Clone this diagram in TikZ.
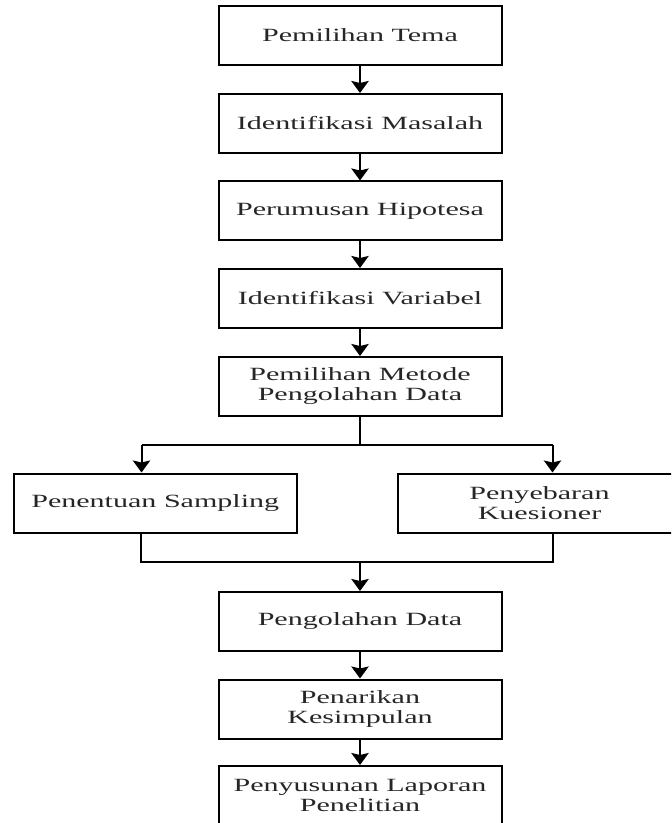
\documentclass[tikz,border=0pt]{standalone}
\usepackage{fontspec}
\setmainfont{Liberation Serif}[FakeStretch=1.61]
\usetikzlibrary{arrows.meta}
\begin{document}
\begin{tikzpicture}[x=0.75pt,y=-0.75pt,
  box/.style={draw, line width=1.5pt, minimum width=212.25pt, minimum height=44.25pt,
    inner sep=0pt, align=center, font=\fontsize{14pt}{15pt}\selectfont, text=black!85},
  conn/.style={line width=1.5pt},
  arr/.style={conn, -{Stealth[width=13pt,length=9pt,inset=1.5pt]}}]
\useasboundingbox (0,0) rectangle (671,823);
\clip (0,0) rectangle (671,823);
% main column
\node[box] (b1) at (360,35.5) {Pemilihan Tema};
\node[box] (b2) at (360,123.5) {Identifikasi Masalah};
\node[box] (b3) at (360,211) {Perumusan Hipotesa};
\node[box] (b4) at (360,298.5) {Identifikasi Variabel};
\node[box] (b5) at (360,386.5) {Pemilihan Metode\\Pengolahan Data};
\node[box] (ls) at (155.25,503) {Penentuan Sampling};
\node[box] (rs) at (539.5,503) {Penyebaran\\Kuesioner};
\node[box] (b6) at (360,621.5) {Pengolahan Data};
\node[box] (b7) at (360,709) {Penarikan\\Kesimpulan};
\node[box] (b8) at (360,795.5) {Penyusunan Laporan\\Penelitian};
% straight arrows
\draw[arr] (b1) -- (b2);
\draw[arr] (b2) -- (b3);
\draw[arr] (b3) -- (b4);
\draw[arr] (b4) -- (b5);
\draw[arr] (b6) -- (b7);
\draw[arr] (b7) -- (b8);
% split
\coordinate (sp) at (360,444.5);
\coordinate (spl) at (141.5,444.5);
\coordinate (spr) at (552.5,444.5);
\draw[conn] (b5.south) -- (sp);
\draw[conn] (spl) -- (spr);
\draw[arr] (spl) -- (spl |- ls.north);
\draw[arr] (spr) -- (spr |- rs.north);
% merge
\coordinate (ml) at (140.5,561.5);
\coordinate (mr) at (552.5,561.5);
\coordinate (mc) at (360,561.5);
\draw[conn] (ml |- ls.south) -- (ml) -- (mr) -- (mr |- rs.south);
\draw[arr] (mc) -- (b6.north);
\end{tikzpicture}
\end{document}
